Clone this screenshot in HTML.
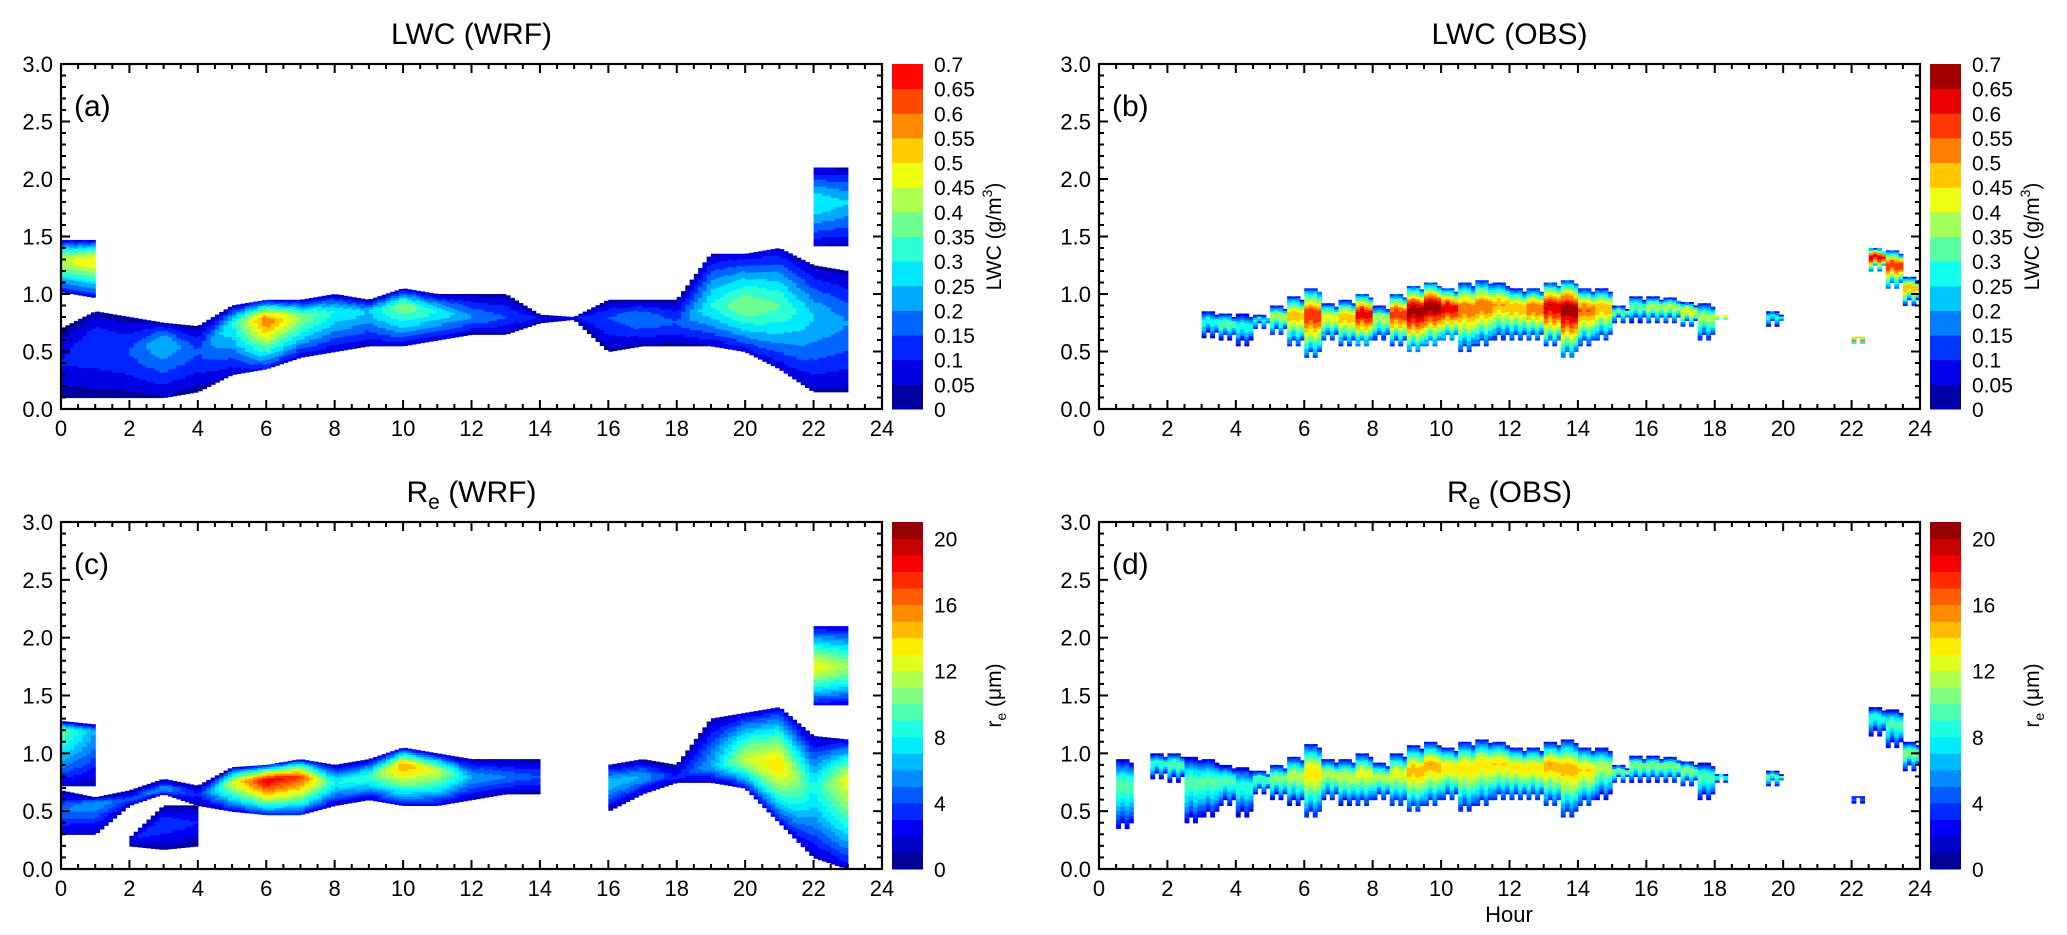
<!DOCTYPE html>
<html><head><meta charset="utf-8">
<style>
html,body{margin:0;padding:0;background:#fff;}
svg{display:block;font-family:"Liberation Sans",Arial,sans-serif;}
</style></head>
<body>
<svg id="fig" width="2067" height="935" viewBox="0 0 2067 935" xmlns="http://www.w3.org/2000/svg"></svg>
<script>
// ===== DATA =====
// Panel (a) LWC WRF, hourly nodes 0..23
const aHours=[0,1,2,3,4,5,6,7,8,9,10,11,12,13,14,15,16,17,18,19,20,21,22,23];
const aBase1=[0.1,0.1,0.1,0.1,0.15,0.3,0.35,0.45,0.5,0.55,0.55,0.6,0.65,0.65,0.75,0.78,0.5,0.55,0.55,0.55,0.5,0.35,0.15,0.15];
const aTop1=[0.7,0.85,0.8,0.75,0.72,0.9,0.95,0.95,1.0,0.95,1.05,1.0,1.0,1.0,0.82,0.8,0.95,0.95,0.95,1.35,1.35,1.4,1.25,1.2];
const aPeak1=[0.1,0.15,0.15,0.25,0.15,0.3,0.6,0.4,0.3,0.25,0.4,0.3,0.2,0.15,0.1,0.1,0.15,0.2,0.15,0.3,0.4,0.35,0.25,0.2];
const aPz1=[0.4,0.6,0.5,0.6,0.5,0.75,0.78,0.8,0.85,0.85,0.9,0.85,0.8,0.8,0.8,0.8,0.8,0.8,0.75,0.9,0.9,0.9,0.8,0.75];
const aBase2=[1.02,0.97,null,null,null,null,null,null,null,null,null,null,null,null,null,null,null,null,null,null,null,null,1.42,1.42];
const aTop2=[1.47,1.47,null,null,null,null,null,null,null,null,null,null,null,null,null,null,null,null,null,null,null,null,2.1,2.1];
const aPeak2=[0.45,0.5,null,null,null,null,null,null,null,null,null,null,null,null,null,null,null,null,null,null,null,null,0.3,0.25];
const aPz2=[1.3,1.3,null,null,null,null,null,null,null,null,null,null,null,null,null,null,null,null,null,null,null,null,1.8,1.8];
// Panel (c) Re WRF
const cBase1=[0.3,0.3,0.55,0.65,0.55,0.5,0.47,0.47,0.55,0.6,0.55,0.55,0.6,0.65,0.65,null,0.5,0.65,0.75,0.75,0.7,0.4,0.1,0.0];
const cTop1=[0.68,0.62,0.68,0.78,0.72,0.88,0.9,0.95,0.9,0.95,1.05,1.0,0.95,0.95,0.95,null,0.9,0.95,0.9,1.3,1.35,1.4,1.15,1.12];
const cPeak1=[5,6,4,6,3,12,19,17,8,9,15,12,6,5,4,null,7,6,3,6,12,14,8,13];
const cPz1=[0.5,0.58,0.6,0.7,0.65,0.75,0.77,0.8,0.75,0.8,0.9,0.85,0.8,0.8,0.8,null,0.75,0.8,0.8,0.9,0.95,0.9,0.7,0.78];
const cBase2=[0.72,0.72,null,null,null,null,null,null,null,null,null,null,null,null,null,null,null,null,null,null,null,null,1.42,1.42];
const cTop2=[1.28,1.25,null,null,null,null,null,null,null,null,null,null,null,null,null,null,null,null,null,null,null,null,2.1,2.1];
const cPeak2=[10,6,null,null,null,null,null,null,null,null,null,null,null,null,null,null,null,null,null,null,null,null,13,11];
const cPz2=[1.2,1.2,null,null,null,null,null,null,null,null,null,null,null,null,null,null,null,null,null,null,null,null,1.75,1.75];
const cBase3=[null,null,0.2,0.17,0.2,null,null,null,null,null,null,null,null,null,null,null,null,null,null,null,null,null,null,null];
const cTop3=[null,null,0.27,0.55,0.55,null,null,null,null,null,null,null,null,null,null,null,null,null,null,null,null,null,null,null];
const cPeak3=[null,null,3,4,3,null,null,null,null,null,null,null,null,null,null,null,null,null,null,null,null,null,null,null];
const cPz3=[null,null,0.25,0.4,0.4,null,null,null,null,null,null,null,null,null,null,null,null,null,null,null,null,null,null,null];
// Panel (b) LWC OBS, half-hour columns
const bTimes=[3.0,3.5,4.0,4.5,5.0,5.5,6.0,6.5,7.0,7.5,8.0,8.5,9.0,9.5,10.0,10.5,11.0,11.5,12.0,12.5,13.0,13.5,14.0,14.5,15.0,15.5,16.0,16.5,17.0,17.5,18.0,19.5,22.0,22.5,23.0,23.5];
const bBase=[0.62,0.6,0.55,0.7,0.65,0.55,0.45,0.6,0.55,0.55,0.6,0.55,0.5,0.55,0.6,0.5,0.55,0.6,0.6,0.6,0.55,0.45,0.55,0.6,0.75,0.75,0.75,0.75,0.72,0.6,0.78,0.72,0.57,1.2,1.05,0.9];
const bTop=[0.85,0.83,0.83,0.82,0.9,0.98,1.05,0.92,0.95,1.0,0.9,1.0,1.07,1.1,1.05,1.1,1.12,1.1,1.05,1.05,1.1,1.12,1.05,1.05,0.9,0.98,0.98,0.97,0.93,0.92,0.82,0.85,0.63,1.4,1.38,1.15];
const bPeak=[0.3,0.35,0.3,0.3,0.4,0.5,0.6,0.45,0.5,0.65,0.4,0.6,0.7,0.7,0.65,0.55,0.55,0.5,0.5,0.55,0.65,0.7,0.55,0.5,0.35,0.35,0.4,0.4,0.45,0.4,0.55,0.3,0.6,0.65,0.6,0.5];
// Panel (d) Re OBS
const dTimes=[0.5,1.5,2.0,2.5,3.0,3.5,4.0,4.5,5.0,5.5,6.0,6.5,7.0,7.5,8.0,8.5,9.0,9.5,10.0,10.5,11.0,11.5,12.0,12.5,13.0,13.5,14.0,14.5,15.0,15.5,16.0,16.5,17.0,17.5,18.0,19.5,22.0,22.5,23.0,23.5];
const dBase=[0.35,0.78,0.75,0.4,0.45,0.55,0.45,0.65,0.6,0.55,0.45,0.6,0.55,0.55,0.6,0.55,0.5,0.55,0.6,0.5,0.55,0.6,0.6,0.6,0.55,0.45,0.55,0.6,0.75,0.75,0.75,0.75,0.72,0.6,0.75,0.72,0.57,1.15,1.05,0.85];
const dTop=[0.95,1.0,1.0,0.97,0.95,0.9,0.88,0.85,0.9,0.97,1.08,0.95,0.95,1.0,0.92,1.0,1.07,1.1,1.05,1.1,1.12,1.1,1.05,1.05,1.1,1.12,1.05,1.05,0.9,0.98,0.98,0.97,0.93,0.92,0.82,0.85,0.63,1.4,1.38,1.1];
const dPeak=[10,9,10,10,10,10,9,10,11,12,14,12,12,13,12,13,15,15,14,14,14,14,14,14,15,15,14,12,11,11,11,11,11,10,9,10,5,9,10,11];
// Colorbar ticks
const lwcTicks=[0,0.05,0.1,0.15,0.2,0.25,0.3,0.35,0.4,0.45,0.5,0.55,0.6,0.65,0.7];
const reTicks=[0,4,8,12,16,20];
const xTicks=[0,2,4,6,8,10,12,14,16,18,20,22,24];
const yTicks=[0,0.5,1.0,1.5,2.0,2.5,3.0];

// ===== DRAWING =====
const NS="http://www.w3.org/2000/svg";
const svg=document.getElementById('fig');
function el(tag,attrs,parent){const e=document.createElementNS(NS,tag);for(const k in attrs)e.setAttribute(k,attrs[k]);(parent||svg).appendChild(e);return e;}
function jet(t){const c=v=>Math.max(0,Math.min(1,v));const r=c(1.5-Math.abs(4*t-3)),g=c(1.5-Math.abs(4*t-2)),b=c(1.5-Math.abs(4*t-1));return 'rgb('+Math.round(r*255)+','+Math.round(g*255)+','+Math.round(b*255)+')';}
function bandColor(i,n,tmax){return jet((i+0.5)/n*tmax);}

function makePanel(P){
  const g=el('g',{});
  
  
  const xs=h=>P.L+(P.R-P.L)*h/24;
  const ys=z=>P.B-(P.B-P.T)*z/3;
  const level=v=>Math.max(0,Math.min(P.nb-1,Math.floor(v/P.step)));
  const fg=el('g',{},g);
  
  
  function column(x0,x1,base,top,peak,pz,fall){
    if(top<=base)return;
    const dz=0.02;let z=base,curL=-1,start=base;
    const flush=(zEnd)=>{if(curL<0)return;const r=el('rect',{x:xs(x0).toFixed(2),y:ys(zEnd).toFixed(2),width:(xs(x1)-xs(x0)+0.6).toFixed(2),height:(ys(start)-ys(zEnd)+0.6).toFixed(2),fill:bandColor(curL,P.nb,P.tmax)},fg);};
    while(z<top-1e-9){
      const zc=Math.min(z+dz/2,top);
      const d=zc<pz?(pz-zc)/Math.max(pz-base,0.01):(zc-pz)/Math.max(top-pz,0.01);
      const v=peak*(1-fall*Math.pow(Math.min(1,d),1.3));
      const L=level(v);
      if(L!==curL){flush(z);curL=L;start=z;}
      z+=dz;
    }
    flush(Math.min(z,top));
  }
  (P.layers||[]).forEach(Ly=>{
    for(let i=0;i<aHours.length-1;i++){
      if(Ly.base[i]==null||Ly.base[i+1]==null)continue;
      const sub=8;
      for(let s=0;s<sub;s++){
        const f=(s+0.5)/sub,h0=aHours[i]+s/sub,h1=aHours[i]+(s+1)/sub;
        const lerp=a=>a[i]+(a[i+1]-a[i])*f;
        column(h0,h1,lerp(Ly.base),lerp(Ly.top),lerp(Ly.peak),lerp(Ly.pz),0.85);
      }
    }
  });
  if(P.obs){
    const O=P.obs;
    for(let i=0;i<O.t.length;i++){
      const sub=4;
      for(let s=0;s<sub;s++){
        const h0=O.t[i]+0.5*s/sub,h1=O.t[i]+0.5*(s+1)/sub;
        const jitter=(s%2===0)?0:0.05;
        const b=O.base[i]+jitter,t=O.top[i]-(s===sub-1?0.03:0);
        column(h0,h1,b,t,O.peak[i],b+0.62*(t-b),0.8);
      }
    }
  }
  // frame
  const fr=el('rect',{x:P.L,y:P.T,width:P.R-P.L,height:P.B-P.T,fill:'none',stroke:'#000','stroke-width':2.2},g);
  
  
  for(let h=0;h<=24.001;h+=0.5){
    const major=Math.abs(h/2-Math.round(h/2))<1e-6;const len=major?9:5;const x=xs(h);
    el('line',{x1:x,y1:P.B,x2:x,y2:P.B-len,stroke:'#000','stroke-width':2},g);
    el('line',{x1:x,y1:P.T,x2:x,y2:P.T+len,stroke:'#000','stroke-width':2},g);
  }
  xTicks.forEach(v=>{const t=el('text',{x:xs(v),y:P.B+27,'font-size':22,'text-anchor':'middle'},g);t.textContent=String(v);
    
    });
  for(let k=0;k<=30;k++){
    const z=k/10;const major=k%5===0;const len=major?9:5;const y=ys(z);
    el('line',{x1:P.L,y1:y,x2:P.L+len,y2:y,stroke:'#000','stroke-width':2},g);
    el('line',{x1:P.R,y1:y,x2:P.R-len,y2:y,stroke:'#000','stroke-width':2},g);
  }
  yTicks.forEach(v=>{const t=el('text',{x:P.L-8,y:ys(v)+8,'font-size':22,'text-anchor':'end'},g);t.textContent=v.toFixed(1);
    
    });
  const lt=el('text',{x:P.L+13,y:P.T+52,'font-size':30},g);lt.textContent=P.letter;
  
  
  const ti=el('text',{x:(P.L+P.R)/2,y:P.T-20,'font-size':30,'text-anchor':'middle'},g);
  
  
  if(P.re){const a=el('tspan',{},ti);a.textContent='R';const b=el('tspan',{'font-size':21,dy:7},ti);b.textContent='e';const c=el('tspan',{dy:-7},ti);c.textContent=' '+P.title;}
  else ti.textContent=P.title;
  const cb=el('g',{},g);
  
  
  const cx0=P.R+10,cx1=P.R+41;const cy=v=>P.B-(P.B-P.T)*v/P.vmax;
  for(let i=0;i<P.nb;i++){
    const r=el('rect',{x:cx0,y:cy((i+1)*P.step),width:cx1-cx0,height:cy(i*P.step)-cy((i+1)*P.step)+0.5,fill:bandColor(i,P.nb,P.tmax)},cb);
    
    
  }
  P.ticks.forEach(v=>{const t=el('text',{x:cx1+11,y:cy(v)+8,'font-size':21},cb);t.textContent=String(v);
    
    });
  const ax=cx1+78,ay=(P.T+P.B)/2;
  const ct=el('text',{x:ax,y:ay,'font-size':21,'text-anchor':'middle',transform:'rotate(-90 '+ax+' '+ay+')'},cb);
  
  
  if(P.re){const a=el('tspan',{},ct);a.textContent='r';const b=el('tspan',{'font-size':14,dy:5},ct);b.textContent='e';const c=el('tspan',{dy:-5},ct);c.textContent=' (\u03BCm)';}
  else{const a=el('tspan',{},ct);a.textContent='LWC (g/m';const b=el('tspan',{'font-size':14,dy:-9},ct);b.textContent='3';const c=el('tspan',{dy:9},ct);c.textContent=')';}
}

const lwcCfg={step:0.05,nb:14,vmax:0.7,ticks:lwcTicks};
const reCfg={step:1,nb:21,vmax:21,ticks:reTicks,re:true};
makePanel(Object.assign({name:'panel-a-lwc-wrf',L:61,R:882,T:64,B:409,letter:'(a)',title:'LWC (WRF)',tmax:0.9,
  layers:[{base:aBase1,top:aTop1,peak:aPeak1,pz:aPz1},{base:aBase2,top:aTop2,peak:aPeak2,pz:aPz2}]},lwcCfg));
makePanel(Object.assign({name:'panel-b-lwc-obs',L:1099,R:1920,T:64,B:409,letter:'(b)',title:'LWC (OBS)',tmax:1.0,
  obs:{t:bTimes,base:bBase,top:bTop,peak:bPeak}},lwcCfg));
makePanel(Object.assign({name:'panel-c-re-wrf',L:61,R:882,T:522,B:869,letter:'(c)',title:'(WRF)',tmax:1.0,
  layers:[{base:cBase1,top:cTop1,peak:cPeak1,pz:cPz1},{base:cBase2,top:cTop2,peak:cPeak2,pz:cPz2},{base:cBase3,top:cTop3,peak:cPeak3,pz:cPz3}]},reCfg));
makePanel(Object.assign({name:'panel-d-re-obs',L:1099,R:1920,T:522,B:869,letter:'(d)',title:'(OBS)',tmax:1.0,
  obs:{t:dTimes,base:dBase,top:dTop,peak:dPeak}},reCfg));
const hx=el('text',{x:1509,y:922,'font-size':22,'text-anchor':'middle'});
hx.textContent='Hour';


</script>
</body></html>
